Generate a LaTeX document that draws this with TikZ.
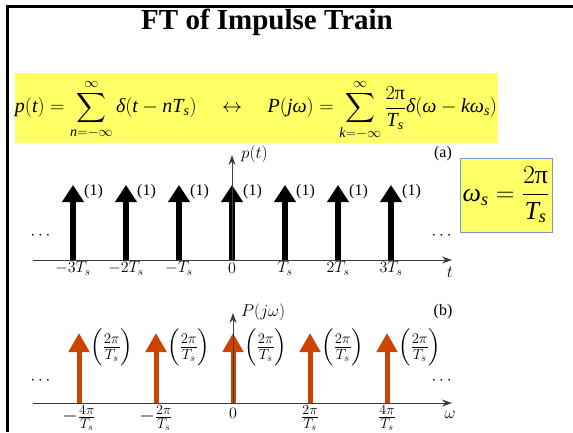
\RequirePackage{fix-cm}
\documentclass[tikz,border=0pt]{standalone}
\usepackage{amsmath}
\usepackage{fontspec}
\setmainfont{Liberation Serif}
\usetikzlibrary{arrows.meta}
\definecolor{hl}{RGB}{255,255,102}
\definecolor{imp}{RGB}{204,68,0}
\definecolor{boxblue}{RGB}{120,150,210}
\definecolor{axgray}{RGB}{60,60,60}
\newcommand{\vi}[1]{\textit{#1}}
\begin{document}
\begin{tikzpicture}[x=1pt,y=-1pt,
  frame/.style={line width=3pt,black},
  axisline/.style={draw=axgray,line width=0.9pt,-{Stealth[length=10pt,width=7pt]}},
  impA/.style={line width=5.5pt,black,-{Triangle[length=17pt,width=21pt]}},
  impB/.style={line width=5pt,imp,-{Triangle[length=19pt,width=20pt]}},
  wlab/.style={font=\fontsize{16}{18}\selectfont,anchor=west,inner sep=0pt},
  tick/.style={font=\fontsize{16}{18}\selectfont,inner sep=0pt},
  frtick/.style={font=\fontsize{20}{22}\selectfont,inner sep=0pt},
  parlab/.style={font=\fontsize{21}{23}\selectfont,inner sep=0pt,anchor=west},
  axlab/.style={font=\fontsize{17}{19}\selectfont,inner sep=0pt},
]
\useasboundingbox (0,0) rectangle (573,432);
\draw[frame] (7,432) -- (7,6.5) -- (573,6.5);
% title
\node[font=\fontsize{29}{32}\selectfont\bfseries] (title) at (267,22) {FT of Impulse Train};
% formula box
\fill[hl] (15,73) rectangle (498,143);
\node[inner sep=0pt] (ft) at (256,110) {\fontsize{20}{24}\selectfont
 $\vi{p}(\vi{t}) = \displaystyle\sum_{\vi{n}=-\infty}^{\infty}\vi{δ}(\vi{t}-\vi{n}\vi{T}_{\vi{s}})\quad\leftrightarrow\quad \vi{P}(\vi{j}\vi{ω}) = \sum_{\vi{k}=-\infty}^{\infty}\frac{2\textup{π}}{\vi{T}_{\vi{s}}}\vi{δ}(\vi{ω}-\vi{k}\vi{ω}_{\vi{s}})$};
% omega_s box
\node[draw=boxblue, fill=hl, minimum width=92pt, minimum height=74pt, inner sep=0pt, line width=0.6pt] (ws) at (506,195)
 {\fontsize{26}{30}\selectfont $\vi{ω}_{\vi{s}} = \dfrac{2\textup{π}}{\vi{T}_{\vi{s}}}$};
% ---- plot (a)
\foreach \x/\l [count=\i] in {73/-3T_s,126/-2T_s,179/-T_s,232/0,285/T_s,338/2T_s,391/3T_s}{
  \draw[impA] (\x,260) -- (\x,185);
  \node[wlab] (one\i) at (\x+11,192) {(1)};
  \node[tick] (ta\i) at (\x,268.5) {$\l$};
}
\coordinate (a0) at (33,260);
\coordinate (a1) at (452,260);
\coordinate (a2) at (232,260);
\coordinate (a3) at (232,155);
\draw[axisline] (a0) -- (a1);
\draw[axisline] (a2) -- (a3);
\node[axlab,anchor=west] (pt) at (241,154) {$p(t)$};
\node[axlab] (t) at (450,272) {$t$};
\node[font=\fontsize{16}{18}\selectfont,inner sep=0pt] (la) at (443,154) {(a)};
\node[axlab] (dA1) at (42,236) {$\cdots$};
\node[axlab] (dA2) at (443,236) {$\cdots$};
% ---- plot (b)
\foreach \x [count=\i] in {79,156,233,310,387}{
  \draw[impB] (\x,403) -- (\x,333);
  \node[parlab] (tw\i) at (\x+11,347) {$\left(\frac{2\pi}{T_s}\right)$};
}
\foreach \x/\l [count=\i] in {79/-\frac{4\pi}{T_s},156/-\frac{2\pi}{T_s},310/\frac{2\pi}{T_s},387/\frac{4\pi}{T_s}}{
  \node[frtick] (tb\i) at (\x,418) {$\l$};
}
\node[tick] (tb0) at (233,413) {$0$};
\coordinate (b0) at (33,403);
\coordinate (b1) at (452,403);
\coordinate (b2) at (233,403);
\coordinate (b3) at (233,313);
\draw[axisline] (b0) -- (b1);
\draw[axisline] (b2) -- (b3);
\node[axlab,anchor=west] (pjw) at (241,312) {$P(j\omega)$};
\node[axlab] (w) at (450,415) {$\omega$};
\node[font=\fontsize{16}{18}\selectfont,inner sep=0pt] (lb) at (443,312) {(b)};
\node[axlab] (dB1) at (42,381) {$\cdots$};
\node[axlab] (dB2) at (443,381) {$\cdots$};
\end{tikzpicture}
\end{document}
